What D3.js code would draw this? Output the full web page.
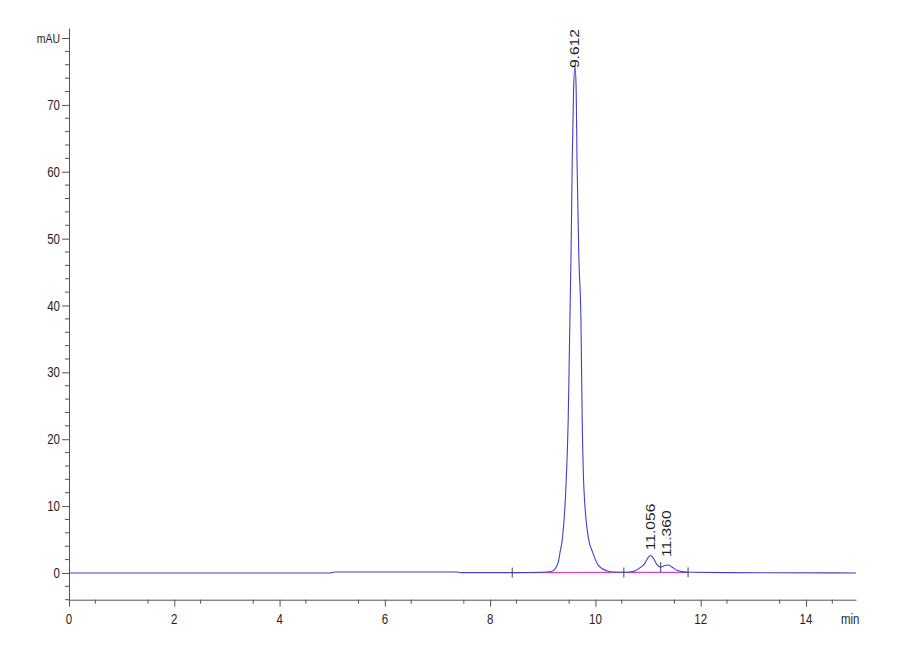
<!DOCTYPE html>
<html>
  <head>
    <meta charset="utf-8">
    <title>Chromatogram</title>
    <script src="https://d3js.org/d3.v7.min.js"></script>
    <style>
      body { margin: 0; background: #fff; }
      text { font-family: "Liberation Sans", Arial, sans-serif; fill: #1e1e1e; }
    </style>
  </head>
  <body>
    <div id="graph"></div>
  </body>

  <script>
    // Trace (time in min, signal in mAU)
    const trace_time = [0, 2.5, 4.95, 5.05, 7.35, 7.45, 8.4, 9.0, 9.19, 9.25, 9.30, 9.326, 9.377,
      9.44, 9.483, 9.515, 9.535, 9.56, 9.585, 9.612, 9.635, 9.65, 9.687, 9.725, 9.749, 9.78,
      9.863, 9.952, 10.05, 10.22, 10.4, 10.6, 10.71, 10.85, 10.93, 11.0, 11.05, 11.1, 11.16,
      11.24, 11.3, 11.38, 11.45, 11.55, 11.64, 11.8, 12.5, 14.95];
    const trace_mau = [0, 0, 0, 0.15, 0.15, 0.05, 0.05, 0.1, 0.3, 0.8, 1.8, 3.0, 5.4,
      12.9, 22.9, 37.8, 46.8, 61.8, 72.0, 75.8, 72.0, 61.8, 46.8, 37.8, 22.9, 12.9,
      5.4, 3.0, 1.2, 0.3, 0.1, 0.1, 0.2, 0.8, 1.35, 2.3, 2.6, 2.2, 1.35,
      0.85, 1.05, 1.2, 0.9, 0.4, 0.2, 0.1, 0.05, 0];

    // Peaks: retention time, label, and the height where the label starts
    const peak_rt = [9.612, 11.056, 11.360];
    const peak_labels = ["9.612", "11.056", "11.360"];
    const label_at = [75.5, 3.4, 2.4];

    // Integration baseline and event marks
    const baseline_time = [8.42, 10.54, 11.76];
    const baseline_mau = [0.05, 0.08, 0.1];
    const drop_time = [11.24];
    const drop_mau = [1.6];

    // Axes
    const x_ticks = [0, 2, 4, 6, 8, 10, 12, 14];
    const y_ticks = [0, 10, 20, 30, 40, 50, 60, 70];
    const x_unit = "min";
    const y_unit = "mAU";
    const y_unit_at = 80;

    const width = 900;
    const height = 660;
    const stretch = 1.25; // text in the picture is taller than wide

    let svg = d3.select("#graph").append("svg")
      .attr("width", width)
      .attr("height", height);

    let x = d3.scaleLinear().domain([0, 14.95]).range([69, 856]);
    let y = d3.scaleLinear().domain([-4, 81.5]).range([599.7, 28]);

    // Axes: ticks only, labels drawn below
    let x_axis = svg.append("g")
      .attr("transform", `translate(0, ${y(-4)})`)
      .call(d3.axisBottom(x).tickValues(x_ticks).tickSize(7).tickSizeOuter(0).tickFormat(""));
    x_axis.append("g").selectAll("line")
      .data(d3.range(0.5, 15, 1))
      .enter().append("line")
      .attr("x1", d => x(d)).attr("x2", d => x(d))
      .attr("y1", 0).attr("y2", 4)
      .attr("stroke", "#555");

    let y_axis = svg.append("g")
      .attr("transform", `translate(${x(0)}, 0)`)
      .call(d3.axisLeft(y).tickValues(y_ticks.concat([y_unit_at])).tickSize(7).tickSizeOuter(0).tickFormat(""));
    y_axis.append("g").selectAll("line")
      .data(d3.range(-4, 81, 2).filter(d => d % 10 !== 0))
      .enter().append("line")
      .attr("x1", -4).attr("x2", 0)
      .attr("y1", d => y(d)).attr("y2", d => y(d))
      .attr("stroke", "#555");
    svg.selectAll(".domain, .tick line").attr("stroke", "#555");

    // Tick labels
    svg.append("g").selectAll("text")
      .data(y_ticks)
      .enter().append("text")
      .attr("transform", d => `translate(60, ${y(d)}) scale(1, ${stretch})`)
      .attr("dy", "0.35em")
      .style("text-anchor", "end")
      .style("font-size", "11.5px")
      .text(d => d);
    svg.append("text")
      .attr("transform", `translate(60, ${y(y_unit_at)}) scale(1, ${stretch})`)
      .attr("dy", "0.35em")
      .style("text-anchor", "end")
      .style("font-size", "10.5px")
      .text(y_unit);

    svg.append("g").selectAll("text")
      .data(x_ticks)
      .enter().append("text")
      .attr("transform", d => `translate(${x(d)}, 623.5) scale(1, ${stretch})`)
      .style("text-anchor", "middle")
      .style("font-size", "11.5px")
      .text(d => d);
    svg.append("text")
      .attr("transform", `translate(841, 623.5) scale(1, ${stretch})`)
      .style("font-size", "11.5px")
      .text(x_unit);

    // Integration baseline
    svg.append("path")
      .datum(d3.zip(baseline_time, baseline_mau))
      .attr("fill", "none")
      .attr("stroke", "#e040d0")
      .attr("stroke-width", 1.2)
      .attr("d", d3.line().x(d => x(d[0])).y(d => y(d[1])));

    // Trace
    svg.append("path")
      .datum(d3.zip(trace_time, trace_mau))
      .attr("fill", "none")
      .attr("stroke", "#4040c8")
      .attr("stroke-width", 1.1)
      .attr("d", d3.line().curve(d3.curveMonotoneX).x(d => x(d[0])).y(d => y(d[1])));

    // Event marks
    svg.append("g").selectAll("line")
      .data(d3.zip(baseline_time, baseline_mau))
      .enter().append("line")
      .attr("x1", d => x(d[0])).attr("x2", d => x(d[0]))
      .attr("y1", d => y(d[1]) - 5).attr("y2", d => y(d[1]) + 5)
      .attr("stroke", "#444");
    svg.append("g").selectAll("line")
      .data(d3.zip(drop_time, drop_mau))
      .enter().append("line")
      .attr("x1", d => x(d[0])).attr("x2", d => x(d[0]))
      .attr("y1", d => y(d[1])).attr("y2", y(0.1))
      .attr("stroke", "#444");

    // Peak labels
    svg.append("g").selectAll("text")
      .data(d3.zip(peak_rt, label_at, peak_labels))
      .enter().append("text")
      .attr("transform", d => `translate(${x(d[0])}, ${y(d[1])}) scale(1, ${stretch}) rotate(-90)`)
      .attr("dy", "0.35em")
      .style("font-size", "12.5px")
      .text(d => d[2]);
  </script>
</html>
